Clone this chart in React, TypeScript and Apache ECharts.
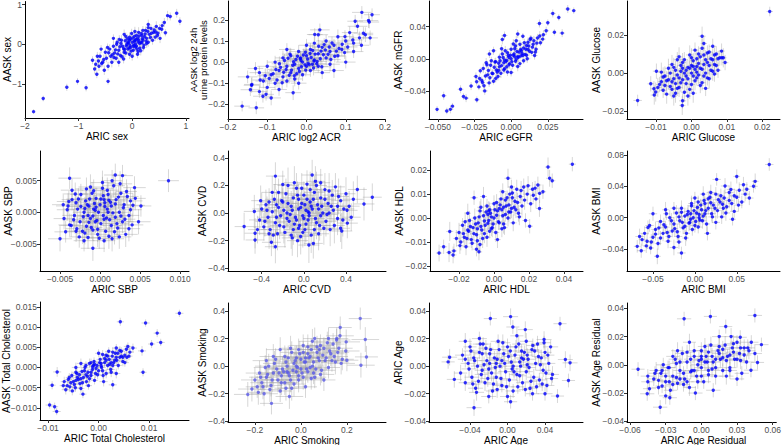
import React, { useEffect, useRef } from "react";
import * as echarts from "echarts";

type P = [number, number, number, number]; // x, y, xErr, yErr

const sexPts: P[] = [
  [-1.84,-1.69,0.03,0.06],[-1.66,-1.36,0.03,0.07],[-1.22,-1.08,0.04,0.09],[-1.02,-0.93,0.03,0.08],[-0.86,-1.09,0.03,0.09],[-0.45,-0.93,0.04,0.08],
  [0.83,0.78,0.04,0.11],[0.89,0.58,0.03,0.1],[0.71,0.7,0.04,0.1],[0.66,0.72,0.03,0.12],[0.56,0.47,0.03,0.1],[0.62,0.29,0.04,0.09],[0.6,0.55,0.03,0.11],
  [-0.74,-0.4,0.04,0.1],[-0.7,-0.62,0.03,0.12],[-0.66,-0.75,0.04,0.1],[-0.68,-0.5,0.03,0.11],[-0.62,-0.55,0.04,0.12],[-0.6,-0.3,0.03,0.1],[-0.55,-0.45,0.04,0.11],
  [-0.5,-0.2,0.03,0.12],[-0.48,-0.35,0.04,0.1],[-0.45,-0.55,0.03,0.11],[-0.42,-0.12,0.04,0.12],[-0.4,-0.3,0.03,0.1],[-0.38,-0.45,0.04,0.13],[-0.35,-0.05,0.03,0.11],
  [-0.33,-0.22,0.04,0.12],[-0.3,-0.35,0.03,0.1],[-0.28,0.05,0.04,0.11],[-0.25,-0.15,0.03,0.12],[-0.22,-0.28,0.04,0.1],[-0.2,0.1,0.03,0.13],[-0.18,-0.05,0.04,0.11],
  [-0.15,-0.2,0.03,0.12],[-0.12,0.2,0.04,0.1],[-0.1,0.0,0.03,0.11],[-0.08,-0.12,0.04,0.12],[-0.05,0.1,0.03,0.1],[-0.03,-0.08,0.04,0.13],[0.0,0.05,0.03,0.11],
  [0.02,-0.15,0.04,0.12],[0.04,0.2,0.03,0.1],[0.06,0.0,0.04,0.11],[0.08,-0.05,0.03,0.12],[0.1,0.15,0.04,0.1],[0.12,0.3,0.03,0.13],[0.14,-0.1,0.04,0.11],
  [0.16,0.05,0.03,0.12],[0.18,0.22,0.04,0.1],[0.2,0.1,0.03,0.11],[0.22,-0.02,0.04,0.12],[0.25,0.35,0.03,0.1],[0.27,0.15,0.04,0.13],[0.3,0.05,0.03,0.11],
  [0.32,0.25,0.04,0.12],[0.35,0.4,0.03,0.1],[0.38,0.1,0.04,0.11],[0.4,0.3,0.03,0.12],[0.43,0.18,0.04,0.1],[0.45,0.45,0.03,0.13],[0.48,0.28,0.04,0.11],
  [0.52,0.15,0.03,0.12],[0.55,0.38,0.04,0.1],[-0.65,-0.3,0.03,0.11],[-0.52,-0.65,0.04,0.12],[-0.58,-0.12,0.03,0.1],[0.0,-0.3,0.04,0.11],[-0.15,0.25,0.03,0.12],
  [0.1,-0.25,0.04,0.1],[-0.25,-0.45,0.03,0.11],[0.3,0.5,0.04,0.12],[-0.35,0.15,0.03,0.1],[-0.05,-0.25,0.04,0.12],[0.2,0.35,0.03,0.11],[0.05,0.1,0.04,0.1],
  [-0.07,0.03,0.04,0.1],[0.03,-0.02,0.03,0.12],[0.11,0.06,0.04,0.11],[-0.16,-0.11,0.03,0.1],[0.19,0.14,0.04,0.12],[-0.23,-0.06,0.03,0.11],[0.07,0.12,0.04,0.1],
  [-0.02,-0.17,0.03,0.12],[0.14,0.02,0.04,0.11],[-0.11,-0.04,0.03,0.1],[0.26,0.08,0.04,0.12],[-0.31,-0.14,0.03,0.11],[0.04,0.07,0.04,0.1],[-0.06,-0.09,0.03,0.12],
  [0.17,0.27,0.04,0.11],[-0.19,-0.31,0.03,0.1],[0.09,-0.12,0.04,0.12],[-0.13,0.09,0.03,0.11],[0.23,0.19,0.04,0.1],[-0.27,-0.24,0.03,0.12],[0.01,0.16,0.04,0.11],
  [-0.04,-0.03,0.03,0.1],[0.13,0.21,0.04,0.12],[-0.09,0.14,0.03,0.11],[0.29,0.32,0.04,0.1],[-0.37,-0.26,0.03,0.12],[0.06,-0.07,0.04,0.11],[-0.21,0.02,0.03,0.1],
  [0.34,0.17,0.04,0.12],[-0.44,-0.21,0.03,0.11],[0.41,0.36,0.04,0.1],[-0.53,-0.38,0.03,0.12],[0.47,0.22,0.04,0.11],[-0.57,-0.48,0.03,0.1],[0.36,0.28,0.04,0.12],
  [-0.16,-0.37,0.03,0.11],[0.21,-0.08,0.04,0.1],[-0.01,0.27,0.03,0.12],[0.08,0.22,0.04,0.11],[-0.29,0.0,0.03,0.1],[0.16,-0.16,0.04,0.12],[-0.08,0.05,0.03,0.11],
  [0.12,0.11,0.04,0.1],[-0.03,0.13,0.03,0.12],[0.02,-0.05,0.04,0.11],[-0.12,-0.22,0.03,0.1],[0.24,0.26,0.04,0.12],[-0.34,-0.33,0.03,0.11],[0.44,0.31,0.04,0.1],
  [-0.63,-0.42,0.03,0.12],[0.51,0.4,0.04,0.11],[-0.46,-0.08,0.03,0.1],[0.3,0.42,0.04,0.12],[-0.24,0.12,0.03,0.11],[0.11,-0.18,0.04,0.1],[0.05,0.32,0.03,0.12],
  [-0.14,-0.13,0.04,0.11],[0.18,0.04,0.03,0.1],[-0.05,0.18,0.04,0.12],[0.27,0.02,0.03,0.11],
];

const acrPts: P[] = [
  [-0.164,-0.209,0.02,0.025],[-0.128,-0.217,0.02,0.03],[-0.143,-0.131,0.025,0.03],[-0.139,-0.106,0.02,0.035],[-0.111,-0.162,0.025,0.03],[-0.103,-0.153,0.02,0.03],
  [-0.034,-0.145,0.02,0.035],[0.141,0.236,0.025,0.03],[0.167,0.225,0.02,0.03],[0.158,0.197,0.025,0.035],[0.124,0.194,0.02,0.03],[0.145,0.137,0.025,0.03],
  [0.162,0.115,0.02,0.035],[0.098,0.121,0.02,0.03],[0.034,0.153,0.025,0.03],[0.021,0.131,0.02,0.03],
  [-0.15,-0.07,0.025,0.03],[-0.14,-0.11,0.02,0.035],[-0.12,-0.05,0.025,0.03],[-0.12,-0.14,0.02,0.03],[-0.11,-0.09,0.02,0.035],[-0.1,-0.02,0.025,0.03],
  [-0.1,-0.12,0.02,0.03],[-0.09,-0.06,0.025,0.035],[-0.08,-0.1,0.02,0.03],[-0.08,0.0,0.02,0.03],[-0.07,-0.04,0.025,0.035],[-0.07,-0.13,0.02,0.03],
  [-0.06,-0.07,0.025,0.03],[-0.06,0.02,0.02,0.035],[-0.05,-0.02,0.02,0.03],[-0.05,-0.09,0.025,0.03],[-0.04,0.03,0.02,0.035],[-0.04,-0.05,0.025,0.03],
  [-0.03,-0.01,0.02,0.03],[-0.03,-0.08,0.02,0.035],[-0.02,0.05,0.025,0.03],[-0.02,-0.03,0.02,0.03],[-0.01,0.0,0.025,0.035],[-0.01,-0.06,0.02,0.03],
  [0.0,0.03,0.02,0.03],[0.0,-0.02,0.025,0.035],[0.01,0.06,0.02,0.03],[0.01,-0.04,0.025,0.03],[0.02,0.01,0.02,0.035],[0.02,0.09,0.02,0.03],
  [0.03,-0.02,0.025,0.03],[0.03,0.04,0.02,0.035],[0.04,0.07,0.025,0.03],[0.04,-0.05,0.02,0.03],[0.05,0.02,0.02,0.035],[0.05,0.1,0.025,0.03],
  [0.06,0.05,0.02,0.03],[0.06,-0.01,0.025,0.035],[0.07,0.08,0.02,0.03],[0.08,0.03,0.02,0.03],[0.08,0.12,0.025,0.035],[0.09,0.06,0.02,0.03],
  [0.1,0.0,0.025,0.03],[0.1,0.1,0.02,0.035],[0.11,0.14,0.02,0.03],[0.12,0.05,0.025,0.03],[0.12,0.09,0.02,0.035],[0.13,0.17,0.025,0.03],
  [0.14,0.08,0.02,0.03],[0.15,0.13,0.02,0.035],[0.16,0.19,0.025,0.03],[-0.13,-0.03,0.02,0.03],[-0.09,-0.17,0.025,0.035],[0.0,0.08,0.02,0.03],
  [-0.05,0.06,0.02,0.03],[0.07,-0.04,0.025,0.035],[-0.02,-0.1,0.02,0.03],[0.03,0.13,0.025,0.03],[-0.015,0.02,0.02,0.03],[0.015,-0.01,0.02,0.03],
  [-0.035,-0.015,0.02,0.03],[0.012,0.022,0.025,0.035],[-0.018,-0.045,0.02,0.03],[0.026,-0.008,0.025,0.03],[-0.052,-0.035,0.02,0.035],[0.043,0.035,0.025,0.03],
  [-0.008,0.034,0.02,0.03],[0.018,-0.028,0.025,0.035],[-0.066,-0.025,0.02,0.03],[0.058,0.072,0.025,0.03],[-0.027,0.012,0.02,0.035],[0.035,0.016,0.025,0.03],
  [-0.044,-0.062,0.02,0.03],[0.007,-0.012,0.025,0.035],[-0.013,-0.022,0.02,0.03],[0.048,0.058,0.025,0.03],[-0.075,-0.085,0.02,0.035],[0.072,0.028,0.025,0.03],
  [-0.003,0.047,0.02,0.03],[0.022,0.038,0.025,0.035],[-0.056,0.008,0.02,0.03],[0.065,0.091,0.025,0.03],[-0.085,-0.055,0.02,0.035],[0.083,0.065,0.025,0.03],
  [-0.038,-0.038,0.02,0.03],[0.003,0.015,0.025,0.035],[-0.023,0.028,0.02,0.03],[0.031,0.075,0.025,0.03],[-0.095,-0.078,0.02,0.035],[0.091,0.085,0.025,0.03],
  [-0.047,0.018,0.02,0.03],[0.055,0.037,0.025,0.035],[-0.062,-0.098,0.02,0.03],[0.016,0.055,0.025,0.03],[-0.031,-0.065,0.02,0.035],[0.039,-0.022,0.025,0.03],
  [-0.014,0.008,0.02,0.03],[0.027,0.003,0.025,0.035],[-0.078,-0.035,0.02,0.03],[0.105,0.072,0.025,0.03],[-0.105,-0.065,0.02,0.035],[0.118,0.105,0.025,0.03],
  [-0.002,-0.038,0.02,0.03],[0.009,0.041,0.025,0.035],[-0.042,0.038,0.02,0.03],[0.062,0.012,0.025,0.03],[-0.118,-0.085,0.02,0.035],[0.135,0.115,0.025,0.03],
  [-0.058,-0.048,0.02,0.03],[0.076,0.052,0.025,0.035],[-0.025,-0.055,0.02,0.03],[0.045,0.083,0.025,0.03],[-0.069,-0.008,0.02,0.035],[0.097,0.045,0.025,0.03],
  [0.004,-0.005,0.02,0.03],[-0.016,0.016,0.025,0.035],[0.019,0.005,0.02,0.03],[-0.004,-0.013,0.025,0.03],[0.037,0.052,0.02,0.035],[-0.033,0.002,0.025,0.03],
];

const gfrPts: P[] = [
  [-0.0505,-0.063,0.0015,0.004],[-0.046,-0.046,0.002,0.005],[-0.0439,-0.065,0.0015,0.004],[-0.0414,-0.063,0.002,0.005],[-0.04,-0.059,0.0015,0.004],
  [-0.0345,-0.038,0.002,0.005],[-0.0325,-0.047,0.0015,0.004],[-0.0307,-0.049,0.002,0.005],[-0.0273,-0.034,0.0015,0.005],[-0.0234,-0.051,0.002,0.004],
  [0.0386,0.062,0.002,0.005],[0.0427,0.06,0.0015,0.004],[0.0284,0.0565,0.002,0.005],[0.0325,0.0515,0.0015,0.004],[0.0193,0.044,0.002,0.005],
  [0.025,0.045,0.0015,0.004],[0.0348,0.032,0.002,0.005],[0.0295,0.033,0.0015,0.004],[0.0239,0.035,0.002,0.005],
  [-0.024,-0.022,0.002,0.005],[-0.022,-0.035,0.0015,0.004],[-0.02,-0.027,0.002,0.005],[-0.019,-0.012,0.0015,0.006],[-0.018,-0.04,0.002,0.005],
  [-0.016,-0.02,0.0015,0.004],[-0.015,-0.03,0.002,0.005],[-0.014,-0.008,0.0015,0.006],[-0.013,-0.018,0.002,0.005],[-0.012,-0.028,0.0015,0.004],
  [-0.011,-0.004,0.002,0.005],[-0.01,-0.014,0.0015,0.006],[-0.009,-0.022,0.002,0.005],[-0.008,0.002,0.0015,0.004],[-0.008,-0.01,0.002,0.005],
  [-0.007,-0.018,0.0015,0.006],[-0.006,0.006,0.002,0.005],[-0.005,-0.005,0.0015,0.004],[-0.005,-0.014,0.002,0.005],[-0.004,0.01,0.0015,0.006],
  [-0.003,-0.002,0.002,0.005],[-0.003,-0.01,0.0015,0.004],[-0.002,0.004,0.002,0.005],[-0.001,-0.006,0.0015,0.006],[0.0,0.012,0.002,0.005],
  [0.0,0.0,0.0015,0.004],[0.001,-0.008,0.002,0.005],[0.002,0.006,0.0015,0.006],[0.003,0.016,0.002,0.005],[0.003,-0.003,0.0015,0.004],
  [0.004,0.009,0.002,0.005],[0.005,0.002,0.0015,0.006],[0.006,0.018,0.002,0.005],[0.006,-0.006,0.0015,0.004],[0.007,0.01,0.002,0.005],
  [0.008,0.004,0.0015,0.006],[0.009,0.02,0.002,0.005],[0.01,0.012,0.0015,0.004],[0.011,0.0,0.002,0.005],[0.012,0.016,0.0015,0.006],
  [0.013,0.024,0.002,0.005],[0.014,0.008,0.0015,0.004],[0.015,0.018,0.002,0.005],[0.017,0.012,0.0015,0.006],[0.018,0.026,0.002,0.005],
  [0.02,0.02,0.0015,0.004],[0.022,0.03,0.002,0.005],[-0.006,0.024,0.0015,0.006],[-0.012,0.01,0.002,0.005],[0.008,0.028,0.0015,0.004],
  [0.016,0.004,0.002,0.005],[-0.017,-0.005,0.0015,0.006],[0.0,-0.017,0.002,0.005],[-0.021,-0.015,0.0015,0.004],[-0.0045,0.029,0.002,0.005],
  [0.0045,0.031,0.0015,0.005],[-0.0148,0.006,0.002,0.005],
  [-0.0035,-0.0035,0.0015,0.005],[0.0015,0.0045,0.002,0.004],[-0.0065,-0.0085,0.0015,0.005],[0.0045,0.0025,0.002,0.006],[-0.0095,-0.0165,0.0015,0.005],
  [0.0085,0.0135,0.002,0.004],[-0.0025,0.0075,0.0015,0.005],[0.0035,-0.0005,0.002,0.006],[-0.0115,-0.0105,0.0015,0.005],[0.0105,0.0165,0.002,0.004],
  [-0.0055,0.0015,0.0015,0.005],[0.0065,0.0115,0.002,0.006],[-0.0145,-0.0235,0.0015,0.005],[0.0125,0.0095,0.002,0.004],[0.0005,-0.0035,0.0015,0.005],
  [-0.0015,0.0015,0.002,0.006],[-0.0075,-0.0025,0.0015,0.005],[0.0075,0.0065,0.002,0.004],[-0.0175,-0.0215,0.0015,0.005],[0.0155,0.0225,0.002,0.006],
  [-0.0105,-0.0035,0.0015,0.005],[0.0095,0.0055,0.002,0.004],[-0.0045,-0.0125,0.0015,0.005],[0.0025,0.0125,0.002,0.006],[-0.0195,-0.0295,0.0015,0.005],
  [0.0175,0.0195,0.002,0.004],[-0.0125,-0.0185,0.0015,0.005],[0.0115,0.0205,0.002,0.006],[-0.0085,-0.0055,0.0015,0.005],[0.0055,0.0085,0.002,0.004],
  [-0.0025,-0.0165,0.0015,0.005],[0.0015,0.0185,0.002,0.006],[-0.0155,-0.0145,0.0015,0.005],[0.0145,0.0145,0.002,0.004],[-0.0005,0.0045,0.0015,0.005],
  [0.0045,-0.0095,0.002,0.006],[-0.0135,-0.0025,0.0015,0.005],[0.0135,0.0255,0.002,0.004],[-0.0215,-0.0245,0.0015,0.005],[0.0195,0.0285,0.002,0.006],
  [-0.0065,0.0125,0.0015,0.005],[0.0085,-0.0025,0.002,0.004],[-0.0185,-0.0335,0.0015,0.005],[0.0165,0.0085,0.002,0.006],[-0.0045,-0.0015,0.0015,0.005],
  [0.0025,0.0025,0.002,0.004],[-0.0105,-0.0245,0.0015,0.005],[0.0105,0.0045,0.002,0.006],[-0.0235,-0.0285,0.0015,0.005],[0.0215,0.0245,0.002,0.004],
  [-0.0165,-0.0075,0.0015,0.005],[0.0035,0.0225,0.002,0.006],[-0.0015,-0.0075,0.0015,0.005],[0.0065,0.0035,0.002,0.004],[-0.0085,-0.0145,0.0015,0.005],
  [0.0115,0.0115,0.002,0.006],
];

const gluPts: P[] = [
  [0.0221,0.0322,0.0009,0.0025],[-0.0152,-0.0143,0.0012,0.003],[-0.0115,-0.0056,0.0009,0.004],[-0.0099,0.001,0.001,0.004],[-0.0026,-0.0169,0.0009,0.005],
  [0.003,0.0193,0.001,0.005],[0.0086,0.008,0.0009,0.004],[-0.0106,-0.0082,0.001,0.004],[-0.0101,-0.0099,0.0009,0.005],
  [-0.009,-0.006,0.001,0.004],[-0.008,-0.002,0.0009,0.005],[-0.008,-0.009,0.001,0.004],[-0.007,-0.004,0.0009,0.005],[-0.006,0.0,0.001,0.004],
  [-0.006,-0.007,0.0009,0.005],[-0.005,-0.003,0.001,0.004],[-0.005,0.003,0.0009,0.005],[-0.004,-0.008,0.001,0.004],[-0.004,-0.001,0.0009,0.005],
  [-0.003,0.004,0.001,0.004],[-0.003,-0.005,0.0009,0.005],[-0.002,0.0,0.001,0.004],[-0.002,-0.01,0.0009,0.005],[-0.002,0.007,0.001,0.004],
  [-0.001,-0.003,0.0009,0.005],[-0.001,0.003,0.001,0.004],[0.0,0.0,0.0009,0.005],[0.0,-0.006,0.001,0.004],[0.0,0.008,0.0009,0.005],
  [0.001,0.002,0.001,0.004],[0.001,-0.004,0.0009,0.005],[0.002,0.005,0.001,0.004],[0.002,-0.001,0.0009,0.005],[0.002,0.01,0.001,0.004],
  [0.003,0.002,0.0009,0.005],[0.003,-0.005,0.001,0.004],[0.004,0.007,0.0009,0.005],[0.004,0.0,0.001,0.004],[0.005,0.004,0.0009,0.005],
  [0.005,0.011,0.001,0.004],[0.005,-0.003,0.0009,0.005],[0.006,0.007,0.001,0.004],[0.006,0.001,0.0009,0.005],[0.007,0.01,0.001,0.004],
  [0.007,0.004,0.0009,0.005],[0.008,0.008,0.001,0.004],[0.003,0.013,0.0009,0.005],[-0.004,0.007,0.001,0.004],[-0.007,-0.011,0.0009,0.005],
  [0.001,0.012,0.001,0.004],[-0.001,-0.012,0.0009,0.005],[0.004,-0.008,0.001,0.004],[-0.005,-0.012,0.0009,0.005],[0.006,0.014,0.001,0.004],
  [0.009,0.008,0.0009,0.005],[0.0,0.004,0.001,0.004],[-0.003,0.001,0.0009,0.005],[-0.0025,-0.0145,0.001,0.004],[0.0015,0.0075,0.0009,0.005],
  [-0.0015,0.0015,0.001,0.005],[0.0015,-0.0025,0.0009,0.004],[-0.0035,-0.0025,0.001,0.005],[0.0035,0.0045,0.0009,0.004],[-0.0055,-0.0045,0.001,0.005],
  [0.0055,0.0075,0.0009,0.004],[-0.0025,0.0055,0.001,0.005],[0.0025,0.0085,0.0009,0.004],[-0.0045,0.0015,0.001,0.005],[0.0045,-0.0025,0.0009,0.004],
  [-0.0065,-0.0035,0.001,0.005],[0.0065,0.0045,0.0009,0.004],[-0.0005,-0.0085,0.001,0.005],[0.0005,0.0065,0.0009,0.004],[-0.0075,-0.0065,0.001,0.005],
  [0.0075,0.0015,0.0009,0.004],[-0.0035,-0.0075,0.001,0.005],[0.0035,-0.0015,0.0009,0.004],[-0.0085,-0.0045,0.001,0.005],[0.0085,0.0115,0.0009,0.004],
  [-0.0015,-0.0055,0.001,0.005],[0.0015,0.0035,0.0009,0.004],[-0.0055,0.0045,0.001,0.005],[0.0055,0.0015,0.0009,0.004],[-0.0025,-0.0035,0.001,0.005],
  [0.0025,0.0025,0.0009,0.004],[-0.0095,-0.0075,0.001,0.005],[0.0095,0.0055,0.0009,0.004],[-0.0045,-0.0105,0.001,0.005],[0.0045,0.0105,0.0009,0.004],
  [-0.0065,0.0025,0.001,0.005],[0.0065,0.0095,0.0009,0.004],[-0.0005,0.0095,0.001,0.005],[0.0005,-0.0015,0.0009,0.004],[-0.0105,-0.0115,0.001,0.005],
  [0.0035,0.0155,0.0009,0.004],[-0.0035,0.0085,0.001,0.005],[0.0025,-0.0065,0.0009,0.004],[-0.0075,-0.0015,0.001,0.005],[0.0075,0.0075,0.0009,0.004],
  [-0.0015,-0.0015,0.001,0.005],[0.0015,0.0005,0.0009,0.004],[-0.0045,-0.0055,0.001,0.005],[0.0045,0.0055,0.0009,0.004],[-0.0025,0.0025,0.001,0.005],
  [0.0005,0.0035,0.0009,0.004],[-0.0055,-0.0085,0.001,0.005],[0.0065,-0.0005,0.0009,0.004],[-0.0085,0.0005,0.001,0.005],[0.0035,0.0095,0.0009,0.004],
  [0.0005,-0.0105,0.001,0.005],[-0.0005,0.0025,0.0009,0.004],
];

const sbpPts: P[] = [
  [0.00854,0.005,0.0013,0.0018],[-0.0038,0.0054,0.0014,0.0017],[-0.005,-0.0042,0.0015,0.002],[0.0019,0.0059,0.0014,0.0018],[0.0028,0.0058,0.0013,0.0017],
  [-0.0009,-0.0057,0.0015,0.002],[0.0043,0.0039,0.0014,0.0018],[0.0051,0.001,0.0013,0.0017],[0.0048,-0.0015,0.0015,0.002],[-0.0046,0.0012,0.0014,0.0018],
  [-0.0045,-0.001,0.0013,0.0017],[-0.004,0.001,0.0015,0.002],[-0.0038,-0.002,0.0014,0.0018],[-0.0035,0.002,0.0013,0.0017],[-0.0032,-0.0005,0.0015,0.002],
  [-0.003,0.0015,0.0014,0.0018],[-0.003,-0.003,0.0013,0.0017],[-0.0028,0.0005,0.0015,0.002],[-0.0025,-0.0015,0.0014,0.0018],[-0.0024,0.0028,0.0013,0.0017],
  [-0.0022,-0.003,0.0015,0.002],[-0.002,0.0,0.0014,0.0018],[-0.0018,0.0018,0.0013,0.0017],[-0.0017,-0.0022,0.0015,0.002],[-0.0015,-0.004,0.0014,0.0018],
  [-0.0014,0.001,0.0013,0.0017],[-0.0012,-0.001,0.0015,0.002],[-0.001,0.003,0.0014,0.0018],[-0.0009,-0.0028,0.0013,0.0017],[-0.0008,0.0005,0.0015,0.002],
  [-0.0006,-0.0015,0.0014,0.0018],[-0.0005,0.0022,0.0013,0.0017],[-0.0003,-0.0035,0.0015,0.002],[-0.0002,0.0,0.0014,0.0018],[0.0,0.0012,0.0013,0.0017],
  [0.0001,-0.0018,0.0015,0.002],[0.0003,0.0038,0.0014,0.0018],[0.0004,-0.0005,0.0013,0.0017],[0.0006,0.0015,0.0015,0.002],[0.0007,-0.003,0.0014,0.0018],
  [0.0009,0.0005,0.0013,0.0017],[0.001,0.0028,0.0015,0.002],[0.0012,-0.0012,0.0014,0.0018],[0.0014,0.001,0.0013,0.0017],[0.0015,-0.0042,0.0015,0.002],
  [0.0017,0.0042,0.0014,0.0018],[0.0019,-0.0008,0.0013,0.0017],[0.002,0.002,0.0015,0.002],[0.0022,-0.0025,0.0014,0.0018],[0.0024,0.0,0.0013,0.0017],
  [0.0026,0.003,0.0015,0.002],[0.0028,-0.0015,0.0014,0.0018],[0.003,0.0012,0.0013,0.0017],[0.0032,-0.0035,0.0015,0.002],[0.0034,0.0025,0.0014,0.0018],
  [0.0036,-0.0005,0.0013,0.0017],[0.0038,0.0018,0.0015,0.002],[0.004,-0.002,0.0014,0.0018],[0.0015,0.005,0.0013,0.0017],[-0.0012,0.004,0.0015,0.002],
  [0.0005,-0.0045,0.0014,0.0018],[-0.002,-0.0045,0.0013,0.0017],[0.0025,0.0045,0.0015,0.002],[-0.0035,0.0035,0.0014,0.0018],[0.001,0.0,0.0013,0.0017],
  [-0.0005,0.0008,0.0015,0.002],[0.0005,0.002,0.0014,0.0018],[-0.0015,-0.0005,0.0013,0.0017],
  [-0.0006,0.0003,0.0014,0.0019],[0.0008,-0.0009,0.0013,0.0017],[-0.0016,0.0012,0.0015,0.0018],[0.0013,0.0016,0.0014,0.002],[-0.0021,-0.0007,0.0013,0.0017],
  [0.0021,-0.0018,0.0015,0.0019],[-0.0011,-0.0024,0.0014,0.0018],[0.0004,0.0026,0.0013,0.002],[-0.0027,0.0021,0.0015,0.0017],[0.0029,0.0007,0.0014,0.0019],
  [-0.0019,-0.0033,0.0013,0.0018],[0.0011,-0.0038,0.0015,0.002],[-0.0033,-0.0012,0.0014,0.0017],[0.0033,0.0033,0.0013,0.0019],[-0.0008,0.0034,0.0015,0.0018],
  [0.0018,-0.0031,0.0014,0.002],[-0.0041,0.0004,0.0013,0.0017],[0.0041,0.0011,0.0015,0.0019],[-0.0029,-0.0026,0.0014,0.0018],[0.0026,-0.0006,0.0013,0.002],
  [-0.0004,-0.0013,0.0015,0.0017],[0.0006,0.0009,0.0014,0.0019],[-0.0013,0.0021,0.0013,0.0018],[0.0016,-0.0001,0.0015,0.002],[-0.0024,0.0009,0.0014,0.0017],
  [0.0023,0.0024,0.0013,0.0019],[-0.0036,-0.0021,0.0015,0.0018],[0.0036,-0.0026,0.0014,0.002],[-0.0001,-0.0041,0.0013,0.0017],[0.0003,0.0047,0.0015,0.0019],
  [-0.0031,0.0029,0.0014,0.0018],[0.0031,-0.0011,0.0013,0.002],[-0.0014,-0.0016,0.0015,0.0017],[0.0011,0.0019,0.0014,0.0019],[-0.0019,0.0006,0.0013,0.0018],
  [0.0019,0.0013,0.0015,0.002],[-0.0043,-0.0031,0.0014,0.0017],[0.0044,0.0022,0.0013,0.0019],[-0.0009,-0.0006,0.0015,0.0018],[0.0009,0.0035,0.0014,0.002],
  [-0.0026,-0.0039,0.0013,0.0017],[0.0024,-0.0039,0.0015,0.0019],[-0.0017,0.0037,0.0014,0.0018],[0.0014,-0.0021,0.0013,0.002],[-0.0039,0.0017,0.0015,0.0017],
  [0.0038,0.0004,0.0014,0.0019],[0.0001,0.0021,0.0013,0.0018],[-0.0003,-0.0027,0.0015,0.002],[0.0005,-0.0011,0.0014,0.0017],[-0.0007,0.0014,0.0013,0.0019],
];

const cvdPts: P[] = [
  [-0.567,-0.098,0.09,0.1],[-0.463,-0.146,0.1,0.11],[-0.463,-0.195,0.09,0.1],[-0.47,0.012,0.1,0.12],[-0.27,0.268,0.09,0.1],[0.079,0.276,0.1,0.11],
  [0.65,0.115,0.09,0.1],[0.571,0.066,0.1,0.12],[0.508,0.171,0.09,0.1],[0.413,-0.073,0.1,0.11],[0.349,-0.11,0.09,0.1],[-0.27,-0.244,0.1,0.12],
  [-0.308,-0.212,0.09,0.1],[0.048,-0.232,0.1,0.13],[-0.2,0.207,0.09,0.1],
  [-0.42,-0.05,0.1,0.11],[-0.4,0.03,0.09,0.12],[-0.38,-0.1,0.1,0.1],[-0.36,0.06,0.09,0.11],[-0.34,-0.03,0.1,0.13],[-0.32,-0.12,0.09,0.1],
  [-0.3,0.01,0.1,0.12],[-0.28,0.1,0.09,0.11],[-0.27,-0.07,0.1,0.1],[-0.25,-0.15,0.09,0.12],[-0.24,0.04,0.1,0.11],[-0.22,-0.02,0.09,0.13],
  [-0.2,0.08,0.1,0.1],[-0.19,-0.1,0.09,0.12],[-0.17,0.14,0.1,0.11],[-0.16,0.0,0.09,0.1],[-0.14,-0.06,0.1,0.12],[-0.12,0.05,0.09,0.11],
  [-0.11,-0.18,0.1,0.13],[-0.1,0.11,0.09,0.1],[-0.08,-0.03,0.1,0.12],[-0.07,0.18,0.09,0.11],[-0.05,0.03,0.1,0.1],[-0.04,-0.09,0.09,0.12],
  [-0.02,0.07,0.1,0.11],[-0.01,-0.02,0.09,0.13],[0.0,0.13,0.1,0.1],[0.01,-0.12,0.09,0.12],[0.02,0.02,0.1,0.11],[0.03,0.21,0.09,0.1],
  [0.04,-0.05,0.1,0.12],[0.06,0.08,0.09,0.11],[0.07,-0.16,0.1,0.13],[0.08,0.03,0.09,0.1],[0.1,0.15,0.1,0.12],[0.11,-0.04,0.09,0.11],
  [0.12,0.2,0.1,0.1],[0.13,0.06,0.09,0.12],[0.15,-0.09,0.1,0.11],[0.16,0.11,0.09,0.13],[0.18,0.0,0.1,0.1],[0.2,0.17,0.09,0.12],
  [0.21,-0.06,0.1,0.11],[0.23,0.07,0.09,0.1],[0.25,-0.12,0.1,0.12],[0.27,0.13,0.09,0.11],[0.28,0.02,0.1,0.13],[0.3,0.19,0.09,0.1],
  [0.32,-0.04,0.1,0.12],[0.35,0.09,0.09,0.11],[0.38,0.03,0.1,0.1],[0.4,0.14,0.09,0.12],[0.43,0.05,0.1,0.11],[0.45,-0.03,0.09,0.1],
  [-0.06,-0.2,0.1,0.12],[0.09,-0.22,0.09,0.11],[-0.15,0.2,0.1,0.13],[0.16,0.22,0.09,0.1],[-0.3,0.15,0.1,0.12],[-0.1,-0.12,0.09,0.11],
  [0.0,-0.04,0.1,0.12],[-0.05,0.1,0.09,0.11],[0.05,0.0,0.1,0.12],
  [-0.03,0.04,0.09,0.11],[0.05,-0.02,0.1,0.12],[-0.13,-0.01,0.09,0.1],[0.14,0.03,0.1,0.13],[-0.21,0.09,0.09,0.11],[0.22,-0.01,0.1,0.12],
  [-0.09,-0.08,0.09,0.1],[0.09,0.1,0.1,0.13],[-0.26,-0.03,0.09,0.11],[0.26,0.05,0.1,0.12],[-0.33,0.08,0.09,0.1],[0.33,0.12,0.1,0.13],
  [-0.18,-0.14,0.09,0.11],[0.19,-0.11,0.1,0.12],[-0.06,0.13,0.09,0.1],[0.02,-0.08,0.1,0.13],[-0.11,0.02,0.09,0.11],[0.12,-0.07,0.1,0.12],
  [-0.23,-0.09,0.09,0.1],[0.24,0.16,0.1,0.13],[-0.37,-0.06,0.09,0.11],[0.37,-0.05,0.1,0.12],[-0.15,0.07,0.09,0.1],[0.07,0.05,0.1,0.13],
  [-0.01,-0.14,0.09,0.11],[0.03,0.1,0.1,0.12],[-0.29,-0.16,0.09,0.1],[0.29,-0.09,0.1,0.13],[-0.41,0.09,0.09,0.11],[0.41,0.02,0.1,0.12],
  [-0.19,0.02,0.09,0.1],[0.17,0.05,0.1,0.13],[-0.07,-0.05,0.09,0.11],[0.1,-0.12,0.1,0.12],[-0.24,0.15,0.09,0.1],[0.2,0.1,0.1,0.13],
  [-0.33,-0.15,0.09,0.11],[0.32,0.05,0.1,0.12],[-0.12,-0.16,0.09,0.1],[0.06,0.17,0.1,0.13],[-0.02,0.18,0.09,0.11],[0.14,-0.15,0.1,0.12],
  [-0.44,-0.12,0.09,0.1],[0.47,0.1,0.1,0.13],[-0.26,0.06,0.09,0.11],[0.24,0.0,0.1,0.12],[-0.05,-0.11,0.09,0.1],[0.04,0.01,0.1,0.13],
  [-0.16,-0.04,0.09,0.11],[0.16,-0.02,0.1,0.12],[-0.35,0.02,0.09,0.1],[0.36,-0.13,0.1,0.13],[0.11,0.23,0.09,0.11],[-0.09,0.22,0.1,0.12],
  [0.01,0.06,0.09,0.1],[-0.03,-0.17,0.1,0.13],
];

const hdlPts: P[] = [
  [0.0448,0.0225,0.002,0.003],[0.0309,0.0213,0.0018,0.004],[0.0318,0.0166,0.002,0.0035],[0.0333,0.0156,0.0018,0.003],[0.008,0.0166,0.002,0.004],
  [-0.0314,-0.0146,0.0018,0.0035],[-0.0288,-0.012,0.002,0.003],[-0.0257,-0.0144,0.0018,0.004],[-0.0234,-0.0154,0.002,0.0035],[-0.0229,-0.0137,0.0018,0.003],
  [-0.0253,-0.0056,0.002,0.004],[-0.0086,-0.0141,0.0018,0.0035],[-0.0114,0.0085,0.002,0.003],[0.0261,0.0103,0.0018,0.004],[0.0251,0.0138,0.002,0.0035],
  [0.0204,-0.0034,0.0018,0.003],
  [-0.02,-0.006,0.002,0.004],[-0.019,-0.01,0.0018,0.0035],[-0.018,-0.003,0.002,0.003],[-0.017,-0.008,0.0018,0.004],[-0.016,-0.012,0.002,0.0035],
  [-0.015,-0.005,0.0018,0.003],[-0.014,-0.001,0.002,0.004],[-0.013,-0.009,0.0018,0.0035],[-0.012,-0.004,0.002,0.003],[-0.011,0.0,0.0018,0.004],
  [-0.01,-0.007,0.002,0.0035],[-0.009,-0.002,0.0018,0.003],[-0.008,0.003,0.002,0.004],[-0.008,-0.011,0.0018,0.0035],[-0.007,-0.005,0.002,0.003],
  [-0.006,0.001,0.0018,0.004],[-0.005,-0.003,0.002,0.0035],[-0.004,0.005,0.0018,0.003],[-0.004,-0.008,0.002,0.004],[-0.003,-0.001,0.0018,0.0035],
  [-0.002,0.002,0.002,0.003],[-0.001,-0.004,0.0018,0.004],[0.0,0.006,0.002,0.0035],[0.0,0.0,0.0018,0.003],[0.001,-0.006,0.002,0.004],
  [0.002,0.003,0.0018,0.0035],[0.003,-0.002,0.002,0.003],[0.004,0.008,0.0018,0.004],[0.005,0.001,0.002,0.0035],[0.006,-0.004,0.0018,0.003],
  [0.007,0.005,0.002,0.004],[0.008,0.0,0.0018,0.0035],[0.009,0.01,0.002,0.003],[0.01,0.004,0.0018,0.004],[0.011,-0.002,0.002,0.0035],
  [0.012,0.007,0.0018,0.003],[0.013,0.012,0.002,0.004],[0.014,0.002,0.0018,0.0035],[0.015,0.009,0.002,0.003],[0.016,0.005,0.0018,0.004],
  [0.017,0.013,0.002,0.0035],[0.018,-0.001,0.0018,0.003],[0.019,0.01,0.002,0.004],[0.021,0.006,0.0018,0.0035],[0.022,0.012,0.002,0.003],
  [0.024,0.008,0.0018,0.004],[0.026,0.004,0.002,0.0035],[0.028,0.011,0.0018,0.003],[-0.006,0.009,0.002,0.004],[0.002,-0.009,0.0018,0.0035],
  [0.01,0.013,0.002,0.003],[-0.015,0.002,0.0018,0.004],[0.005,0.011,0.002,0.0035],[-0.01,-0.013,0.0018,0.003],[-0.003,0.003,0.002,0.004],
  [0.003,0.004,0.0018,0.0035],
  [-0.0015,0.0005,0.002,0.0035],[0.0015,0.0012,0.0018,0.004],[-0.0035,-0.0022,0.002,0.003],[0.0045,0.0035,0.0018,0.0035],[-0.0055,-0.0012,0.002,0.004],
  [0.0065,0.0015,0.0018,0.003],[-0.0075,-0.0035,0.002,0.0035],[0.0085,0.0055,0.0018,0.004],[-0.0025,-0.0055,0.002,0.003],[0.0025,-0.0015,0.0018,0.0035],
  [-0.0095,-0.0045,0.002,0.004],[0.0105,0.0085,0.0018,0.003],[-0.0045,0.0025,0.002,0.0035],[0.0055,0.0045,0.0018,0.004],[-0.0115,-0.0065,0.002,0.003],
  [0.0125,0.0035,0.0018,0.0035],[-0.0065,-0.0085,0.002,0.004],[0.0075,0.0085,0.0018,0.003],[-0.0135,-0.0035,0.002,0.0035],[0.0135,0.0065,0.0018,0.004],
  [-0.0005,-0.0025,0.002,0.003],[0.0005,0.0035,0.0018,0.0035],[-0.0085,0.0005,0.002,0.004],[0.0095,0.0025,0.0018,0.003],[-0.0155,-0.0085,0.002,0.0035],
  [0.0155,0.0115,0.0018,0.004],[-0.0105,-0.0025,0.002,0.003],[0.0115,0.0045,0.0018,0.0035],[-0.0035,0.0015,0.002,0.004],[0.0035,0.0055,0.0018,0.003],
  [-0.0175,-0.0065,0.002,0.0035],[0.0175,0.0075,0.0018,0.004],[-0.0125,-0.0105,0.002,0.003],[0.0145,0.0005,0.0018,0.0035],[-0.0055,-0.0065,0.002,0.004],
  [0.0065,0.0075,0.0018,0.003],[-0.0195,-0.0115,0.002,0.0035],[0.0195,0.0135,0.0018,0.004],[-0.0025,0.0035,0.002,0.003],[0.0045,-0.0045,0.0018,0.0035],
  [-0.0145,-0.0055,0.002,0.004],[0.0105,0.0105,0.0018,0.003],[-0.0075,0.0045,0.002,0.0035],[0.0085,0.0025,0.0018,0.004],[-0.0015,-0.0045,0.002,0.003],
  [0.0015,0.0065,0.0018,0.0035],[-0.0165,-0.0015,0.002,0.004],[0.0225,0.0095,0.0018,0.003],[-0.0095,-0.0095,0.002,0.0035],[0.0055,-0.0025,0.0018,0.004],
  [0.0235,0.0125,0.002,0.003],[-0.0215,-0.0085,0.0018,0.0035],
];

const bmiPts: P[] = [
  [0.0888,0.0678,0.005,0.008],[0.05,0.0526,0.004,0.009],[0.026,0.0488,0.005,0.008],[0.072,0.0463,0.004,0.01],[0.07,0.04,0.005,0.008],
  [0.062,0.0362,0.004,0.009],[0.036,0.0404,0.005,0.01],[-0.0688,-0.0366,0.004,0.008],[-0.064,-0.0421,0.005,0.009],[-0.0448,-0.0493,0.004,0.01],
  [-0.016,-0.045,0.005,0.008],[-0.056,-0.0126,0.004,0.009],[-0.066,-0.024,0.005,0.01],[-0.0528,-0.0387,0.004,0.008],
  [-0.06,-0.02,0.005,0.009],[-0.057,-0.03,0.004,0.01],[-0.054,-0.01,0.005,0.008],[-0.05,-0.025,0.004,0.009],[-0.047,-0.015,0.005,0.01],
  [-0.044,-0.033,0.004,0.008],[-0.041,-0.005,0.005,0.009],[-0.038,-0.02,0.004,0.01],[-0.035,-0.012,0.005,0.008],[-0.032,-0.03,0.004,0.009],
  [-0.03,0.0,0.005,0.01],[-0.027,-0.017,0.004,0.008],[-0.025,-0.008,0.005,0.009],[-0.022,0.006,0.004,0.01],[-0.02,-0.024,0.005,0.008],
  [-0.018,-0.004,0.004,0.009],[-0.016,0.012,0.005,0.01],[-0.014,-0.013,0.004,0.008],[-0.012,0.002,0.005,0.009],[-0.01,-0.02,0.004,0.01],
  [-0.008,0.008,0.005,0.008],[-0.006,-0.006,0.004,0.009],[-0.004,0.015,0.005,0.01],[-0.002,0.0,0.004,0.008],[0.0,-0.01,0.005,0.009],
  [0.002,0.006,0.004,0.01],[0.004,0.02,0.005,0.008],[0.006,-0.003,0.004,0.009],[0.008,0.01,0.005,0.01],[0.01,0.002,0.004,0.008],
  [0.012,0.018,0.005,0.009],[0.014,-0.008,0.004,0.01],[0.016,0.012,0.005,0.008],[0.018,0.026,0.004,0.009],[0.02,0.005,0.005,0.01],
  [0.022,0.016,0.004,0.008],[0.025,0.03,0.005,0.009],[0.027,0.009,0.004,0.01],[0.03,0.02,0.005,0.008],[0.032,0.001,0.004,0.009],
  [0.035,0.025,0.005,0.01],[0.038,0.014,0.004,0.008],[0.041,0.032,0.005,0.009],[0.044,0.018,0.004,0.01],[0.047,0.008,0.005,0.008],
  [0.05,0.026,0.004,0.009],[0.053,0.035,0.005,0.01],[0.056,0.02,0.004,0.008],[0.06,0.03,0.005,0.009],[-0.035,0.01,0.004,0.01],
  [0.0,0.025,0.005,0.008],[0.015,-0.02,0.004,0.009],[-0.025,-0.038,0.005,0.01],[0.045,-0.002,0.004,0.008],[-0.05,0.005,0.005,0.009],
  [0.01,0.03,0.004,0.01],[-0.005,0.005,0.005,0.008],[0.005,0.0,0.004,0.009],
  [-0.005,-0.002,0.004,0.009],[0.005,0.004,0.005,0.01],[-0.015,-0.006,0.004,0.008],[0.013,0.009,0.005,0.009],[-0.024,-0.014,0.004,0.01],
  [0.024,0.012,0.005,0.008],[-0.009,0.004,0.004,0.009],[0.009,-0.004,0.005,0.01],[-0.033,-0.019,0.004,0.008],[0.033,0.017,0.005,0.009],
  [-0.019,0.001,0.004,0.01],[0.019,0.019,0.005,0.008],[-0.041,-0.026,0.004,0.009],[0.041,0.022,0.005,0.01],[-0.003,-0.015,0.004,0.008],
  [0.003,0.013,0.005,0.009],[-0.028,-0.004,0.004,0.01],[0.028,0.023,0.005,0.008],[-0.012,-0.011,0.004,0.009],[0.012,0.005,0.005,0.01],
  [-0.047,-0.021,0.004,0.008],[0.047,0.028,0.005,0.009],[-0.021,-0.018,0.004,0.01],[0.021,0.001,0.005,0.008],[-0.037,-0.009,0.004,0.009],
  [0.037,0.006,0.005,0.01],[-0.001,0.009,0.004,0.008],[0.001,-0.005,0.005,0.009],[-0.052,-0.031,0.004,0.01],[0.052,0.016,0.005,0.008],
  [-0.016,0.007,0.004,0.009],[0.016,0.024,0.005,0.01],[-0.031,-0.024,0.004,0.008],[0.031,0.028,0.005,0.009],[-0.007,-0.007,0.004,0.01],
  [0.007,0.016,0.005,0.008],[-0.043,-0.013,0.004,0.009],[0.043,0.036,0.005,0.01],[-0.025,0.012,0.004,0.008],[0.025,-0.006,0.005,0.009],
  [-0.011,-0.026,0.004,0.01],[0.011,0.022,0.005,0.008],[-0.058,-0.036,0.004,0.009],[0.058,0.042,0.005,0.01],[-0.034,0.005,0.004,0.008],
  [0.034,0.012,0.005,0.009],[-0.004,0.018,0.004,0.01],[0.004,-0.012,0.005,0.008],[-0.019,-0.031,0.004,0.009],[0.019,0.032,0.005,0.01],
  [-0.063,-0.028,0.004,0.008],[0.065,0.025,0.005,0.009],
];

const cholPts: P[] = [
  [0.016,0.0134,0.0008,0.0009],[0.0043,0.0113,0.0007,0.001],[0.0093,0.011,0.0008,0.0009],[0.0116,0.0085,0.0007,0.001],[0.0123,0.0062,0.0008,0.0009],
  [0.0105,0.0058,0.0007,0.001],[0.0086,0.0041,0.0008,0.0012],[0.0088,-0.0012,0.0007,0.001],[-0.0097,-0.0093,0.0008,0.0009],[-0.0087,-0.0097,0.0007,0.001],
  [-0.0083,-0.0109,0.0008,0.0009],[-0.0092,-0.0044,0.0007,0.001],[-0.0082,-0.0011,0.0008,0.0012],[-0.0031,-0.0066,0.0007,0.001],[0.0028,-0.0043,0.0008,0.0012],
  [-0.007,-0.0045,0.0007,0.001],[-0.0065,-0.0055,0.0008,0.0012],[-0.006,-0.003,0.0007,0.001],[-0.0057,-0.0048,0.0008,0.0012],[-0.0053,-0.002,0.0007,0.001],
  [-0.005,-0.0035,0.0008,0.0012],[-0.0046,-0.005,0.0007,0.001],[-0.0043,-0.0015,0.0008,0.0012],[-0.004,-0.003,0.0007,0.001],[-0.0037,-0.004,0.0008,0.0012],
  [-0.0033,-0.001,0.0007,0.001],[-0.003,-0.0025,0.0008,0.0012],[-0.0027,0.0,0.0007,0.001],[-0.0024,-0.0035,0.0008,0.0012],[-0.0021,-0.0012,0.0007,0.001],
  [-0.0018,0.001,0.0008,0.0012],[-0.0015,-0.002,0.0007,0.001],[-0.0012,-0.0005,0.0008,0.0012],[-0.0009,0.0015,0.0007,0.001],[-0.0006,-0.0015,0.0008,0.0012],
  [-0.0003,0.0005,0.0007,0.001],[0.0,-0.0008,0.0008,0.0012],[0.0003,0.002,0.0007,0.001],[0.0006,0.0,0.0008,0.0012],[0.0009,-0.002,0.0007,0.001],
  [0.0012,0.0012,0.0008,0.0012],[0.0015,0.003,0.0007,0.001],[0.0018,0.0005,0.0008,0.0012],[0.0021,0.002,0.0007,0.001],[0.0024,-0.0005,0.0008,0.0012],
  [0.0027,0.0028,0.0007,0.001],[0.003,0.0012,0.0008,0.0012],[0.0033,0.0035,0.0007,0.001],[0.0036,0.0018,0.0008,0.0012],[0.0039,0.0005,0.0007,0.001],
  [0.0042,0.0025,0.0008,0.0012],[0.0045,0.004,0.0007,0.001],[0.0048,0.0015,0.0008,0.0012],[0.0052,0.003,0.0007,0.001],[0.0056,0.0025,0.0008,0.0012],
  [0.006,0.0028,0.0007,0.001],[-0.0035,0.001,0.0008,0.0012],[0.0,0.0035,0.0007,0.001],[0.001,-0.0035,0.0008,0.0012],[-0.002,-0.0045,0.0007,0.001],
  [-0.0045,0.0,0.0008,0.0012],[0.002,0.004,0.0007,0.001],[0.0035,-0.0015,0.0008,0.0012],[-0.001,0.0005,0.0007,0.001],[0.0005,0.001,0.0008,0.0012],
  [-0.0005,-0.0002,0.0007,0.0011],[0.0005,0.0004,0.0008,0.001],[-0.0015,-0.0012,0.0007,0.0012],[0.0015,0.0018,0.0008,0.0011],[-0.0025,-0.0018,0.0007,0.001],
  [0.0025,0.0012,0.0008,0.0012],[-0.0035,-0.0028,0.0007,0.0011],[0.0035,0.0025,0.0008,0.001],[-0.0045,-0.0032,0.0007,0.0012],[0.0045,0.0028,0.0008,0.0011],
  [-0.0008,0.0008,0.0007,0.001],[0.0008,-0.0008,0.0008,0.0012],[-0.0018,-0.0028,0.0007,0.0011],[0.0018,0.0028,0.0008,0.001],[-0.0028,-0.0008,0.0007,0.0012],
  [0.0028,0.0005,0.0008,0.0011],[-0.0038,-0.0018,0.0007,0.001],[0.0038,0.0035,0.0008,0.0012],[-0.0048,-0.0042,0.0007,0.0011],[0.0048,0.0025,0.0008,0.001],
  [-0.0012,0.0002,0.0007,0.0012],[0.0012,0.0022,0.0008,0.0011],[-0.0022,-0.0022,0.0007,0.001],[0.0022,0.0008,0.0008,0.0012],[-0.0032,-0.0038,0.0007,0.0011],
  [0.0032,0.0018,0.0008,0.001],[-0.0042,-0.0025,0.0007,0.0012],[0.0042,0.0042,0.0008,0.0011],[-0.0055,-0.0038,0.0007,0.001],[0.0055,0.0045,0.0008,0.0012],
  [-0.0002,-0.0018,0.0007,0.0011],[0.0002,0.0012,0.0008,0.001],[-0.0062,-0.0045,0.0007,0.0012],[0.0062,0.0038,0.0008,0.0011],[-0.0025,0.0005,0.0007,0.001],
  [0.0025,-0.0012,0.0008,0.0012],[-0.0052,-0.0058,0.0007,0.0011],[0.0052,0.0012,0.0008,0.001],[-0.0068,-0.0035,0.0007,0.0012],[0.0068,0.0048,0.0008,0.0011],
  [-0.0015,0.0012,0.0007,0.001],[0.0015,-0.0015,0.0008,0.0012],[-0.0035,-0.0052,0.0007,0.0011],[0.0035,0.0048,0.0008,0.001],[-0.0045,-0.0012,0.0007,0.0012],
  [0.0008,0.0032,0.0008,0.0011],[-0.0008,-0.0032,0.0007,0.001],[0.0028,0.0038,0.0008,0.0012],[-0.0058,-0.0025,0.0007,0.0011],[0.0058,0.0052,0.0008,0.001],
];

const smokePts: P[] = [
  [0.258,0.345,0.05,0.08],[0.28,0.193,0.06,0.09],[0.285,0.067,0.05,0.08],[0.261,0.007,0.06,0.09],[0.171,0.28,0.05,0.08],[-0.231,-0.205,0.06,0.09],
  [-0.128,-0.27,0.05,0.08],[-0.213,-0.166,0.06,0.09],[0.2,0.043,0.05,0.08],[0.197,0.176,0.06,0.09],[0.156,0.2,0.05,0.08],
  [-0.2,-0.1,0.06,0.09],[-0.19,-0.15,0.05,0.08],[-0.18,-0.05,0.06,0.09],[-0.17,-0.12,0.05,0.08],[-0.16,-0.2,0.06,0.09],[-0.15,-0.08,0.05,0.08],
  [-0.14,0.0,0.06,0.09],[-0.13,-0.14,0.05,0.08],[-0.12,-0.05,0.06,0.09],[-0.11,0.05,0.05,0.08],[-0.1,-0.1,0.06,0.09],[-0.09,-0.18,0.05,0.08],
  [-0.08,-0.02,0.06,0.09],[-0.07,0.07,0.05,0.08],[-0.07,-0.12,0.06,0.09],[-0.06,0.0,0.05,0.08],[-0.05,-0.07,0.06,0.09],[-0.04,0.1,0.05,0.08],
  [-0.04,-0.16,0.06,0.09],[-0.03,0.02,0.05,0.08],[-0.02,-0.04,0.06,0.09],[-0.01,0.12,0.05,0.08],[-0.01,-0.1,0.06,0.09],[0.0,0.05,0.05,0.08],
  [0.0,-0.02,0.06,0.09],[0.01,0.1,0.05,0.08],[0.01,-0.08,0.06,0.09],[0.02,0.03,0.05,0.08],[0.03,0.14,0.06,0.09],[0.03,-0.04,0.05,0.08],
  [0.04,0.07,0.06,0.09],[0.05,0.0,0.05,0.08],[0.05,0.18,0.06,0.09],[0.06,-0.08,0.05,0.08],[0.07,0.1,0.06,0.09],[0.08,0.04,0.05,0.08],
  [0.09,-0.03,0.06,0.09],[0.1,0.13,0.05,0.08],[0.11,0.06,0.06,0.09],[0.12,-0.01,0.05,0.08],[0.13,0.09,0.06,0.09],[0.14,0.16,0.05,0.08],
  [0.15,0.03,0.06,0.09],[0.16,0.1,0.05,0.08],[0.17,0.22,0.06,0.09],[0.18,0.05,0.05,0.08],[-0.12,0.07,0.06,0.09],[0.06,0.2,0.05,0.08],
  [-0.05,-0.22,0.06,0.09],[0.1,-0.1,0.05,0.08],[-0.15,0.04,0.06,0.09],[0.02,-0.15,0.05,0.08],[-0.09,0.12,0.06,0.09],[0.12,0.2,0.05,0.08],
  [-0.02,0.06,0.06,0.09],[0.04,-0.01,0.05,0.08],[-0.06,-0.04,0.06,0.09],[0.08,0.12,0.05,0.08],
  [-0.015,-0.01,0.05,0.09],[0.015,0.03,0.06,0.08],[-0.035,-0.03,0.05,0.09],[0.035,0.06,0.06,0.08],[-0.055,-0.05,0.05,0.09],[0.055,0.03,0.06,0.08],
  [-0.075,-0.04,0.05,0.09],[0.075,0.06,0.06,0.08],[-0.095,-0.05,0.05,0.09],[0.095,0.08,0.06,0.08],[-0.025,0.04,0.05,0.09],[0.025,-0.02,0.06,0.08],
  [-0.045,-0.1,0.05,0.09],[0.045,0.12,0.06,0.08],[-0.065,0.03,0.05,0.09],[0.065,-0.02,0.06,0.08],[-0.085,-0.12,0.05,0.09],[0.085,0.15,0.06,0.08],
  [-0.105,-0.02,0.05,0.09],[0.105,0.04,0.06,0.08],[-0.125,-0.1,0.05,0.09],[0.125,0.11,0.06,0.08],[-0.005,0.09,0.05,0.09],[0.005,-0.05,0.06,0.08],
  [-0.145,-0.06,0.05,0.09],[0.145,0.07,0.06,0.08],[-0.165,-0.15,0.05,0.09],[0.165,0.13,0.06,0.08],[-0.03,-0.13,0.05,0.09],[0.03,0.09,0.06,0.08],
  [-0.055,0.06,0.05,0.09],[0.055,-0.05,0.06,0.08],[-0.115,0.02,0.05,0.09],[0.115,0.17,0.06,0.08],[-0.175,-0.08,0.05,0.09],[0.175,0.02,0.06,0.08],
  [-0.085,-0.07,0.05,0.09],[0.085,-0.06,0.06,0.08],[-0.02,0.0,0.05,0.09],[0.02,0.06,0.06,0.08],[-0.135,-0.17,0.05,0.09],[0.135,0.04,0.06,0.08],
  [-0.065,-0.16,0.05,0.09],[0.07,0.14,0.06,0.08],[-0.01,-0.07,0.05,0.09],[0.01,0.15,0.06,0.08],[-0.045,0.13,0.05,0.09],[0.045,-0.09,0.06,0.08],
  [-0.155,-0.01,0.05,0.09],[0.155,0.19,0.06,0.08],[-0.185,-0.19,0.05,0.09],[0.195,0.11,0.06,0.08],
];

const agePts: P[] = [
  [-0.0183,0.0345,0.007,0.005],[0.0033,0.0359,0.008,0.006],[0.0057,0.0284,0.007,0.005],[0.019,0.0265,0.008,0.006],[0.056,0.0308,0.007,0.005],
  [-0.0357,-0.0301,0.008,0.006],[0.0033,-0.0258,0.007,0.005],[-0.0617,0.0065,0.008,0.006],[-0.0633,0.0031,0.007,0.005],[-0.0567,-0.0096,0.008,0.006],
  [0.0533,-0.0217,0.007,0.005],[0.0617,0.0048,0.008,0.006],[0.065,-0.0104,0.007,0.005],[0.0667,0.0024,0.008,0.006],[0.0267,-0.02,0.007,0.005],
  [0.039,0.0193,0.008,0.006],
  [-0.05,-0.005,0.007,0.006],[-0.048,0.008,0.008,0.005],[-0.045,-0.012,0.007,0.006],[-0.042,0.002,0.008,0.005],[-0.04,0.014,0.007,0.006],
  [-0.038,-0.008,0.008,0.005],[-0.036,0.006,0.007,0.006],[-0.034,-0.016,0.008,0.005],[-0.032,0.0,0.007,0.006],[-0.03,0.01,0.008,0.005],
  [-0.028,-0.006,0.007,0.006],[-0.026,0.016,0.008,0.005],[-0.024,-0.012,0.007,0.006],[-0.022,0.004,0.008,0.005],[-0.02,-0.002,0.007,0.006],
  [-0.018,0.012,0.008,0.005],[-0.016,-0.018,0.007,0.006],[-0.014,0.006,0.008,0.005],[-0.012,-0.008,0.007,0.006],[-0.01,0.018,0.008,0.005],
  [-0.008,0.0,0.007,0.006],[-0.006,-0.014,0.008,0.005],[-0.004,0.009,0.007,0.006],[-0.002,-0.004,0.008,0.005],[0.0,0.014,0.007,0.006],
  [0.002,-0.01,0.008,0.005],[0.004,0.003,0.007,0.006],[0.006,-0.018,0.008,0.005],[0.008,0.008,0.007,0.006],[0.01,-0.006,0.008,0.005],
  [0.012,0.016,0.007,0.006],[0.014,0.0,0.008,0.005],[0.016,-0.012,0.007,0.006],[0.018,0.01,0.008,0.005],[0.02,-0.004,0.007,0.006],
  [0.022,0.005,0.008,0.005],[0.024,-0.016,0.007,0.006],[0.026,0.012,0.008,0.005],[0.028,-0.008,0.007,0.006],[0.03,0.002,0.008,0.005],
  [0.032,0.016,0.007,0.006],[0.034,-0.01,0.008,0.005],[0.036,0.006,0.007,0.006],[0.038,-0.003,0.008,0.005],[0.04,0.01,0.007,0.006],
  [0.042,-0.014,0.008,0.005],[0.044,0.002,0.007,0.006],[0.046,0.014,0.008,0.005],[0.048,-0.006,0.007,0.006],[-0.02,-0.022,0.008,0.005],
  [0.01,0.022,0.007,0.006],[-0.03,0.02,0.008,0.005],[0.02,0.018,0.007,0.006],[0.0,-0.022,0.008,0.005],[-0.045,0.018,0.007,0.006],
  [0.04,-0.02,0.008,0.005],[-0.006,0.004,0.007,0.006],[0.006,0.0,0.008,0.005],[-0.012,0.002,0.007,0.006],[0.015,0.006,0.008,0.005],
  [-0.003,0.002,0.008,0.006],[0.005,-0.002,0.007,0.005],[-0.011,0.005,0.008,0.006],[0.013,-0.007,0.007,0.005],[-0.019,0.009,0.008,0.006],
  [0.021,0.001,0.007,0.005],[-0.027,-0.003,0.008,0.006],[0.029,0.011,0.007,0.005],[-0.035,0.004,0.008,0.006],[0.037,-0.013,0.007,0.005],
  [-0.007,-0.009,0.008,0.006],[0.009,0.014,0.007,0.005],[-0.015,-0.013,0.008,0.006],[0.017,0.005,0.007,0.005],[-0.023,0.013,0.008,0.006],
  [0.025,-0.011,0.007,0.005],[-0.031,-0.011,0.008,0.006],[0.033,0.007,0.007,0.005],[-0.039,0.011,0.008,0.006],[0.041,-0.005,0.007,0.005],
  [-0.001,-0.015,0.008,0.006],[0.001,0.007,0.007,0.005],[-0.009,0.012,0.008,0.006],[0.011,-0.015,0.007,0.005],[-0.017,-0.005,0.008,0.006],
  [0.019,-0.017,0.007,0.005],[-0.025,0.001,0.008,0.006],[0.027,0.015,0.007,0.005],[-0.033,-0.019,0.008,0.006],[0.035,0.001,0.007,0.005],
  [-0.041,-0.002,0.008,0.006],[0.043,0.008,0.007,0.005],[-0.005,0.017,0.008,0.006],[0.007,-0.004,0.007,0.005],[-0.013,-0.001,0.008,0.006],
  [0.015,0.011,0.007,0.005],[-0.021,-0.009,0.008,0.006],[0.023,-0.001,0.007,0.005],[-0.029,0.016,0.008,0.006],[0.031,-0.015,0.007,0.005],
  [-0.037,-0.013,0.008,0.006],[0.039,0.017,0.007,0.005],[-0.045,0.005,0.008,0.006],[0.047,-0.009,0.007,0.005],[-0.011,-0.017,0.008,0.006],
  [0.003,0.011,0.007,0.005],[-0.019,0.002,0.008,0.006],[0.013,0.003,0.007,0.005],[-0.027,0.009,0.008,0.006],[0.021,0.008,0.007,0.005],
];

const ageResPts: P[] = [
  [-0.0145,0.0326,0.006,0.005],[0.0076,0.0343,0.0055,0.005],[0.045,0.035,0.006,0.005],[0.0205,0.0271,0.0055,0.005],[-0.0346,-0.03,0.006,0.005],
  [-0.0532,-0.0031,0.0055,0.005],[-0.0455,-0.0205,0.006,0.005],[-0.0436,-0.0169,0.0055,0.005],[0.0505,0.0143,0.006,0.005],[0.0472,0.0017,0.0055,0.005],
  [0.0417,-0.0038,0.006,0.005],[0.0327,0.0195,0.0055,0.005],[-0.0265,-0.0233,0.006,0.005],
  [-0.04,-0.01,0.006,0.005],[-0.038,-0.004,0.0055,0.006],[-0.036,-0.016,0.006,0.005],[-0.034,-0.006,0.0055,0.006],[-0.032,0.0,0.006,0.005],
  [-0.03,-0.012,0.0055,0.006],[-0.028,-0.002,0.006,0.005],[-0.026,-0.018,0.0055,0.006],[-0.024,-0.008,0.006,0.005],[-0.022,0.004,0.0055,0.006],
  [-0.02,-0.013,0.006,0.005],[-0.018,-0.004,0.0055,0.006],[-0.016,0.008,0.006,0.005],[-0.014,-0.01,0.0055,0.006],[-0.012,0.002,0.006,0.005],
  [-0.01,-0.016,0.0055,0.006],[-0.008,-0.004,0.006,0.005],[-0.006,0.01,0.0055,0.006],[-0.004,-0.008,0.006,0.005],[-0.002,0.003,0.0055,0.006],
  [0.0,-0.002,0.006,0.005],[0.0,0.01,0.0055,0.006],[0.002,-0.012,0.006,0.005],[0.004,0.006,0.0055,0.006],[0.006,-0.004,0.006,0.005],
  [0.008,0.014,0.0055,0.006],[0.01,0.002,0.006,0.005],[0.012,-0.008,0.0055,0.006],[0.014,0.01,0.006,0.005],[0.016,0.004,0.0055,0.006],
  [0.018,-0.004,0.006,0.005],[0.02,0.014,0.0055,0.006],[0.022,0.006,0.006,0.005],[0.024,-0.002,0.0055,0.006],[0.026,0.012,0.006,0.005],
  [0.028,0.004,0.0055,0.006],[0.03,0.016,0.006,0.005],[0.032,0.008,0.0055,0.006],[0.034,-0.006,0.006,0.005],[0.036,0.012,0.0055,0.006],
  [0.038,0.002,0.006,0.005],[0.04,0.01,0.0055,0.006],[0.042,0.016,0.006,0.005],[-0.01,0.016,0.0055,0.006],[0.01,-0.018,0.006,0.005],
  [-0.02,0.01,0.0055,0.006],[0.015,0.02,0.006,0.005],[-0.03,-0.022,0.0055,0.006],[0.03,-0.01,0.006,0.005],[0.0,0.004,0.0055,0.006],
  [-0.005,-0.02,0.006,0.005],[0.025,0.02,0.0055,0.006],[-0.045,-0.008,0.006,0.005],[0.005,0.002,0.0055,0.006],
  [-0.003,0.0,0.0055,0.005],[0.003,0.002,0.006,0.006],[-0.009,-0.005,0.0055,0.005],[0.009,0.006,0.006,0.006],[-0.015,-0.006,0.0055,0.005],
  [0.015,0.008,0.006,0.006],[-0.021,-0.009,0.0055,0.005],[0.021,0.003,0.006,0.006],[-0.027,-0.012,0.0055,0.005],[0.027,0.009,0.006,0.006],
  [-0.033,-0.004,0.0055,0.005],[0.033,0.012,0.006,0.006],[-0.006,0.006,0.0055,0.005],[0.006,-0.007,0.006,0.006],[-0.012,-0.012,0.0055,0.005],
  [0.012,0.004,0.006,0.006],[-0.018,0.002,0.0055,0.005],[0.018,0.011,0.006,0.006],[-0.024,-0.014,0.0055,0.005],[0.024,0.007,0.006,0.006],
  [-0.03,-0.008,0.0055,0.005],[0.03,0.004,0.006,0.006],[-0.036,-0.011,0.0055,0.005],[0.036,0.007,0.006,0.006],[0.0,-0.008,0.0055,0.005],
  [0.0,0.006,0.006,0.006],[-0.009,0.004,0.0055,0.005],[0.009,-0.003,0.006,0.006],[-0.015,-0.014,0.0055,0.005],[0.015,0.013,0.006,0.006],
  [-0.021,0.001,0.0055,0.005],[0.021,-0.008,0.006,0.006],[-0.027,-0.002,0.0055,0.005],[0.027,0.015,0.006,0.006],[-0.033,-0.015,0.0055,0.005],
  [0.033,0.003,0.006,0.006],[-0.039,-0.006,0.0055,0.005],[0.039,0.012,0.006,0.006],[-0.003,-0.012,0.0055,0.005],[0.003,0.013,0.006,0.006],
  [-0.012,0.009,0.0055,0.005],[0.012,-0.002,0.006,0.006],[-0.006,-0.004,0.0055,0.005],[0.006,0.009,0.006,0.006],[-0.018,-0.01,0.0055,0.005],
  [0.018,0.005,0.006,0.006],[-0.045,-0.012,0.0055,0.005],[0.045,0.008,0.006,0.006],[-0.024,0.006,0.0055,0.005],[0.024,-0.004,0.006,0.006],
];

// tick values per panel
const sexXTicks = [-2, -1, 0, 1];
const sexYTicks = [-1, 0, 1];
const acrXTicks = [-0.2, -0.1, 0, 0.1, 0.2];
const acrYTicks = [-0.2, -0.1, 0, 0.1, 0.2];
const gfrXTicks = [-0.05, -0.025, 0, 0.025];
const gfrYTicks = [-0.04, 0, 0.04];
const gluXTicks = [-0.01, 0, 0.01, 0.02];
const gluYTicks = [-0.02, 0, 0.02];
const sbpXTicks = [-0.005, 0, 0.005, 0.01];
const sbpYTicks = [-0.005, 0, 0.005];
const cvdXTicks = [-0.4, 0, 0.4];
const cvdYTicks = [-0.4, -0.2, 0, 0.2, 0.4];
const hdlXTicks = [-0.02, 0, 0.02, 0.04];
const hdlYTicks = [-0.02, -0.01, 0, 0.01, 0.02];
const bmiXTicks = [-0.05, 0, 0.05];
const bmiYTicks = [-0.04, 0, 0.04, 0.08];
const cholXTicks = [-0.01, 0, 0.01];
const cholYTicks = [-0.01, -0.005, 0, 0.005, 0.01, 0.015];
const smokeXTicks = [-0.2, 0, 0.2];
const smokeYTicks = [-0.4, -0.2, 0, 0.2, 0.4];
const ageXTicks = [-0.04, 0, 0.04];
const ageYTicks = [-0.04, -0.02, 0, 0.02, 0.04];
const ageResXTicks = [-0.06, -0.03, 0, 0.03, 0.06];
const ageResYTicks = [-0.04, -0.02, 0, 0.02, 0.04];

const panels = [
  { pts: sexPts, xName: "ARIC sex", yName: "AASK sex", x: [-2.0, 1.06], y: [-1.85, 1.075], xt: sexXTicks, yt: sexYTicks, xd: 0, yd: 0 },
  { pts: acrPts, xName: "ARIC log2 ACR", yName: "AASK log2 24h\nurine protein levels", x: [-0.2, 0.2], y: [-0.27, 0.29], xt: acrXTicks, yt: acrYTicks, xd: 1, yd: 1 },
  { pts: gfrPts, xName: "ARIC eGFR", yName: "AASK mGFR", x: [-0.056, 0.049], y: [-0.075, 0.072], xt: gfrXTicks, yt: gfrYTicks, xd: 3, yd: 2 },
  { pts: gluPts, xName: "ARIC Glucose", yName: "AASK Glucose", x: [-0.0182, 0.025], y: [-0.024, 0.0377], xt: gluXTicks, yt: gluYTicks, xd: 2, yd: 2 },
  { pts: sbpPts, xName: "ARIC SBP", yName: "AASK SBP", x: [-0.0075, 0.0111], y: [-0.0093, 0.0097], xt: sbpXTicks, yt: sbpYTicks, xd: 3, yd: 3 },
  { pts: cvdPts, xName: "ARIC CVD", yName: "AASK CVD", x: [-0.72, 0.78], y: [-0.42, 0.45], xt: cvdXTicks, yt: cvdYTicks, xd: 1, yd: 1 },
  { pts: hdlPts, xName: "ARIC HDL", yName: "AASK HDL", x: [-0.0366, 0.0509], y: [-0.0221, 0.028], xt: hdlXTicks, yt: hdlYTicks, xd: 2, yd: 2 },
  { pts: bmiPts, xName: "ARIC BMI", yName: "AASK BMI", x: [-0.081, 0.1016], y: [-0.068, 0.085], xt: bmiXTicks, yt: bmiYTicks, xd: 2, yd: 2 },
  { pts: cholPts, xName: "ARIC Total Cholesterol", yName: "AASK Total Cholesterol", x: [-0.0116, 0.0179], y: [-0.013, 0.0162], xt: cholXTicks, yt: cholYTicks, xd: 2, yd: 3 },
  { pts: smokePts, xName: "ARIC Smoking", yName: "AASK Smoking", x: [-0.317, 0.37], y: [-0.405, 0.458], xt: smokeXTicks, yt: smokeYTicks, xd: 1, yd: 1 },
  { pts: agePts, xName: "ARIC Age", yName: "ARIC Age", x: [-0.0837, 0.0805], y: [-0.0405, 0.0458], xt: ageXTicks, yt: ageYTicks, xd: 2, yd: 2 },
  { pts: ageResPts, xName: "ARIC Age Residual", yName: "AASK Age Residual", x: [-0.0625, 0.063], y: [-0.0405, 0.0438], xt: ageResXTicks, yt: ageResYTicks, xd: 2, yd: 2 },
];

// layout: [left, top, width, height, yTitleOffset, yTitleFontSize]
const layout: number[][] = [
  [25, 1, 164, 117, 18, 10], [228, 1, 157, 118, 30, 9.5], [429, 1, 154, 118, 31, 10], [627, 1, 153, 118, 31, 10],
  [40, 151, 149, 120, 32, 10], [228, 151, 158, 120, 26, 10], [430, 151, 153, 120, 31, 10], [627, 151, 153, 120, 31, 10],
  [40, 302, 149, 118, 34, 10], [228, 303, 158, 119, 26, 10], [429, 303, 154, 119, 31, 10], [627, 303, 153, 119, 31, 10],
];

const FONT = "Liberation Sans, Arial, Helvetica, sans-serif";
const TICK_FS = 8.5;
const TITLE_FS = 10;

function fmt(dec: number) {
  return (v: number) => {
    const s = Math.abs(v).toFixed(dec);
    return (v < -1e-12 ? "\u2212" : "") + s;
  };
}

export default function App() {
  const ref = useRef<HTMLDivElement>(null);
  useEffect(() => {
    if (!ref.current) return;
    const chart = echarts.init(ref.current, undefined, { renderer: "svg" });
    const grid = layout.map(([l, t, w, h]) => ({ left: l, top: t, width: w, height: h }));
    const xAxis = panels.map((p, i) => ({
      type: "value", gridIndex: i, min: p.x[0], max: p.x[1],
      axisLine: { show: true, onZero: false, lineStyle: { color: "#000", width: 1 } },
      axisTick: { show: true, length: 3, customValues: p.xt, lineStyle: { color: "#333" } },
      axisLabel: { customValues: p.xt, formatter: fmt(p.xd), fontSize: TICK_FS, color: "#4d4d4d", margin: 3, fontFamily: FONT },
      splitLine: { show: false },
    }));
    const yAxis = panels.map((p, i) => ({
      type: "value", gridIndex: i, min: p.y[0], max: p.y[1],
      axisLine: { show: true, onZero: false, lineStyle: { color: "#000", width: 1 } },
      axisTick: { show: true, length: 3, customValues: p.yt, lineStyle: { color: "#333" } },
      axisLabel: { customValues: p.yt, formatter: fmt(p.yd), fontSize: TICK_FS, color: "#4d4d4d", margin: 3, fontFamily: FONT },
      splitLine: { show: false },
    }));
    const series: any[] = [];
    panels.forEach((p, i) => {
      series.push({
        type: "custom", xAxisIndex: i, yAxisIndex: i, clip: true, silent: true,
        data: p.pts, encode: { x: 0, y: 1 },
        renderItem: (_params: any, api: any) => {
          const x = api.value(0), y = api.value(1), ex = api.value(2), ey = api.value(3);
          const a = api.coord([x - ex, y]), b = api.coord([x + ex, y]);
          const c = api.coord([x, y - ey]), d = api.coord([x, y + ey]);
          const st = { stroke: "rgba(150,150,150,0.38)", lineWidth: 1 };
          return {
            type: "group",
            children: [
              { type: "line", shape: { x1: a[0], y1: a[1], x2: b[0], y2: b[1] }, style: st },
              { type: "line", shape: { x1: c[0], y1: c[1], x2: d[0], y2: d[1] }, style: st },
            ],
          };
        },
      });
      series.push({
        type: "scatter", xAxisIndex: i, yAxisIndex: i, silent: true,
        data: p.pts.map((q) => [q[0], q[1]]),
        symbol: "circle", symbolSize: 3.4,
        itemStyle: { color: i === 9 ? "#5a5ae8" : "#0000ff" },
      });
    });
    const graphic: any[] = [];
    panels.forEach((p, i) => {
      const [l, t, w, h, yo, fs] = layout[i];
      graphic.push({
        type: "text", x: l + w / 2, y: t + h + 18,
        style: { text: p.xName, fontSize: TITLE_FS, fill: "#000", fontFamily: FONT, textAlign: "center", textVerticalAlign: "middle" },
      });
      graphic.push({
        type: "text", x: l - yo, y: t + h / 2, rotation: Math.PI / 2,
        style: { text: p.yName, fontSize: fs, lineHeight: fs + 0.5, fill: "#000", fontFamily: FONT, textAlign: "center", textVerticalAlign: "middle" },
      });
    });
    chart.setOption({ animation: false, backgroundColor: "#fff", grid, xAxis, yAxis, series, graphic });
    return () => chart.dispose();
  }, []);
  return <div ref={ref} style={{ position: "fixed", left: 0, top: 0, width: 784, height: 445 }} />;
}
